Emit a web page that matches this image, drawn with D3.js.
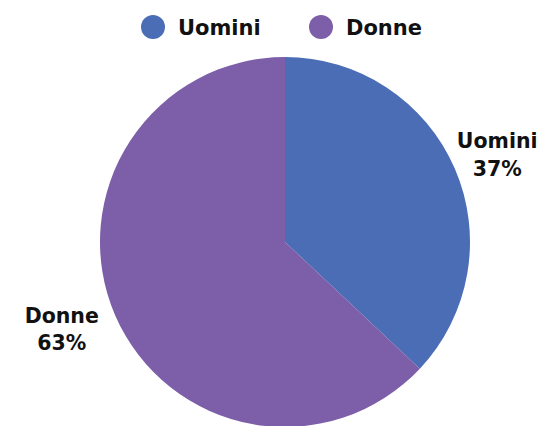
<!DOCTYPE html>
<html>
<head>
<meta charset="utf-8">
<script src="https://cdn.jsdelivr.net/npm/d3@7"></script>
<style>
  body { margin: 0; background: #fff; }
  text { font-family: "DejaVu Sans", sans-serif; font-weight: 700; fill: #111; }
</style>
</head>
<body>
<div id="chart"></div>
<script>
var categories = ["Uomini", "Donne"];
var values = [37, 63];
var colors = ["#4b6db5", "#7d5ea8"];

var width = 543, height = 426;
var cx = 285, cy = 242, radius = 185;

var svg = d3.select("#chart")
  .append("svg")
    .attr("width", width)
    .attr("height", height);

var data = categories.map(function(c, i) { return {name: c, value: values[i]}; });

var pie = d3.pie()
  .sort(null)
  .value(function(d) { return d.value; });

var arc = d3.arc()
  .innerRadius(0)
  .outerRadius(radius);

var color = d3.scaleOrdinal()
  .domain(categories)
  .range(colors);

var g = svg.append("g")
  .attr("transform", "translate(" + cx + "," + cy + ")");

var arcs = pie(data);

g.selectAll("path")
  .data(arcs)
  .enter().append("path")
    .attr("d", arc)
    .attr("fill", function(d) { return color(d.data.name); });

// labels outside the pie
var labelArc = d3.arc()
  .innerRadius(radius * 1.25)
  .outerRadius(radius * 1.25);

var labels = g.selectAll(".lbl")
  .data(arcs)
  .enter().append("text")
    .attr("class", "lbl")
    .attr("text-anchor", "middle")
    .attr("font-size", 20.5)
    .attr("transform", function(d) {
      var p = labelArc.centroid(d);
      var dx = p[0] < 0 ? -11 : 0;   // left label sits a bit further out
      var dy = p[1] < 0 ? 4 : -5;
      return "translate(" + (p[0] + dx) + "," + (p[1] + dy) + ")";
    });

labels.append("tspan")
  .attr("x", 0)
  .attr("dy", "-0.3em")
  .text(function(d) { return d.data.name; });

labels.append("tspan")
  .attr("x", 0)
  .attr("dy", "1.35em")
  .text(function(d) { return d.data.value + "%"; });

// legend
var legendX = [153, 321];
var legend = svg.selectAll(".legend")
  .data(categories)
  .enter().append("g")
    .attr("class", "legend")
    .attr("transform", function(d, i) { return "translate(" + legendX[i] + ",27)"; });

legend.append("circle")
  .attr("r", 12)
  .attr("fill", function(d) { return color(d); });

legend.append("text")
  .attr("x", 25)
  .attr("dy", "0.36em")
  .attr("font-size", 21)
  .text(function(d) { return d; });
</script>
</body>
</html>
